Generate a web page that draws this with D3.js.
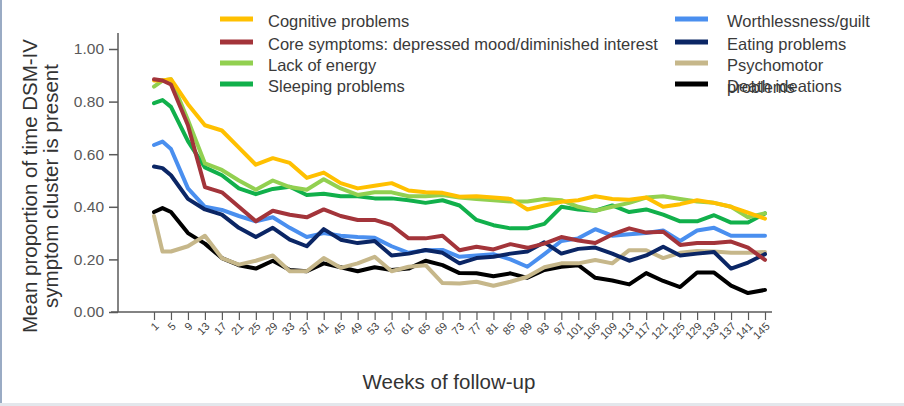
<!DOCTYPE html>
<html>
<head>
<meta charset="utf-8">
<script src="https://cdn.jsdelivr.net/npm/d3@7"></script>
<style>
  html, body { margin: 0; padding: 0; background: #fff; }
  svg { display: block; font-family: "Liberation Sans", Arial, sans-serif; }
</style>
</head>
<body>
<svg id="chart" width="904" height="406"></svg>
<script>
// Weeks at which each symptom cluster is sampled
const weeks = [1, 3, 5, 9, 13, 17, 21, 25, 29, 33, 37, 41, 45, 49, 53, 57, 61, 65, 69, 73,
  77, 81, 85, 89, 93, 97, 101, 105, 109, 113, 117, 121, 125, 129, 133, 137, 141, 145];

// Tick labels on the week axis
const weekTicks = d3.range(1, 146, 4);
// Tick values on the proportion axis
const proportionTicks = [0, 0.2, 0.4, 0.6, 0.8, 1.0];

// Mean proportion of time each DSM-IV symptom cluster is present
const cognitive = [0.88, 0.88, 0.885, 0.79, 0.71, 0.69, 0.625, 0.56, 0.585, 0.567, 0.51, 0.53, 0.49, 0.47, 0.48, 0.49, 0.462, 0.455, 0.453, 0.438,
  0.44, 0.435, 0.43, 0.39, 0.405, 0.419, 0.425, 0.44, 0.43, 0.427, 0.435, 0.40, 0.41, 0.425, 0.415, 0.40, 0.378, 0.355];
const coreSymptoms = [0.885, 0.88, 0.865, 0.71, 0.475, 0.455, 0.40, 0.345, 0.385, 0.37, 0.36, 0.39, 0.365, 0.35, 0.35, 0.33, 0.28, 0.28, 0.29, 0.235,
  0.248, 0.238, 0.258, 0.244, 0.26, 0.285, 0.272, 0.262, 0.295, 0.318, 0.302, 0.305, 0.255, 0.262, 0.262, 0.268, 0.245, 0.198];
const lackOfEnergy = [0.857, 0.88, 0.885, 0.73, 0.565, 0.54, 0.50, 0.465, 0.50, 0.475, 0.465, 0.505, 0.47, 0.445, 0.455, 0.455, 0.44, 0.44, 0.445, 0.435,
  0.43, 0.425, 0.42, 0.42, 0.43, 0.425, 0.40, 0.385, 0.40, 0.415, 0.435, 0.44, 0.43, 0.42, 0.415, 0.40, 0.36, 0.375];
const sleeping = [0.794, 0.806, 0.78, 0.65, 0.55, 0.52, 0.47, 0.448, 0.468, 0.476, 0.445, 0.45, 0.44, 0.44, 0.432, 0.432, 0.425, 0.415, 0.425, 0.405,
  0.35, 0.33, 0.318, 0.318, 0.335, 0.40, 0.39, 0.385, 0.405, 0.38, 0.39, 0.37, 0.345, 0.345, 0.368, 0.34, 0.34, 0.375];
const worthlessness = [0.635, 0.648, 0.62, 0.47, 0.40, 0.388, 0.365, 0.345, 0.36, 0.32, 0.285, 0.30, 0.29, 0.285, 0.282, 0.25, 0.225, 0.235, 0.236, 0.21,
  0.215, 0.22, 0.20, 0.172, 0.22, 0.27, 0.28, 0.315, 0.29, 0.296, 0.30, 0.31, 0.27, 0.31, 0.32, 0.29, 0.29, 0.29];
const eating = [0.553, 0.547, 0.52, 0.43, 0.39, 0.37, 0.32, 0.285, 0.32, 0.275, 0.25, 0.315, 0.275, 0.262, 0.27, 0.215, 0.222, 0.236, 0.225, 0.185,
  0.205, 0.21, 0.222, 0.23, 0.265, 0.222, 0.24, 0.245, 0.222, 0.195, 0.215, 0.248, 0.215, 0.222, 0.228, 0.165, 0.188, 0.22];
const psychomotor = [0.365, 0.23, 0.23, 0.25, 0.29, 0.205, 0.18, 0.195, 0.215, 0.155, 0.155, 0.205, 0.168, 0.185, 0.21, 0.155, 0.172, 0.178, 0.11, 0.108,
  0.115, 0.10, 0.115, 0.134, 0.17, 0.185, 0.185, 0.198, 0.185, 0.235, 0.235, 0.205, 0.225, 0.232, 0.23, 0.225, 0.225, 0.228];
const deathIdeations = [0.38, 0.395, 0.38, 0.30, 0.26, 0.205, 0.178, 0.165, 0.195, 0.16, 0.155, 0.185, 0.17, 0.155, 0.17, 0.16, 0.165, 0.195, 0.178, 0.148,
  0.147, 0.136, 0.147, 0.13, 0.16, 0.172, 0.178, 0.13, 0.12, 0.105, 0.148, 0.118, 0.095, 0.15, 0.15, 0.10, 0.072, 0.084];

const seriesNames = ["Cognitive problems", "Core symptoms: depressed mood/diminished interest", "Lack of energy", "Sleeping problems",
  "Worthlessness/guilt", "Eating problems", "Psychomotor problems", "Death ideations"];
const seriesValues = [cognitive, coreSymptoms, lackOfEnergy, sleeping, worthlessness, eating, psychomotor, deathIdeations];
const seriesColors = ["#FFC000", "#A3343A", "#92D050", "#11B04B", "#4A8FEF", "#0B2665", "#C6B78A", "#000000"];

const svg = d3.select("#chart");

// Frame edges of the figure
svg.append("line").attr("x1", 1).attr("x2", 1).attr("y1", 0).attr("y2", 403)
  .attr("stroke", "#9AABC4").attr("stroke-width", 2);
svg.append("rect").attr("x", 0).attr("y", 403).attr("width", 904).attr("height", 3).attr("fill", "#E3E7EC");

const x = d3.scaleLinear().domain([1, 145]).range([154, 765]);
const y = d3.scaleLinear().domain([0, 1]).range([312, 49]);
const axisColor = "#5A5A5A";

// Proportion axis
const yAxis = svg.append("g").attr("transform", "translate(118,0)")
  .call(d3.axisLeft(y).tickValues(proportionTicks).tickFormat(d3.format(".2f")).tickSize(9).tickPadding(5));
yAxis.select(".domain").remove();
yAxis.selectAll(".tick line").attr("stroke", axisColor).attr("stroke-width", 1.5);
yAxis.selectAll(".tick text").attr("fill", "#595959").style("font-size", "15.5px")
  .style("font-family", "'Liberation Sans', Arial, sans-serif");
svg.append("line").attr("x1", 118).attr("x2", 118).attr("y1", 33).attr("y2", y(0))
  .attr("stroke", axisColor).attr("stroke-width", 1.5);

// Week axis
const xAxis = svg.append("g").attr("transform", `translate(0,${y(0)})`)
  .call(d3.axisBottom(x).tickValues(weekTicks).tickSize(8).tickFormat(d3.format("d")));
xAxis.select(".domain").remove();
xAxis.selectAll(".tick line").attr("stroke", axisColor).attr("stroke-width", 1.2);
xAxis.selectAll(".tick text")
  .attr("fill", "#444").style("font-size", "11px")
  .style("font-family", "'Liberation Sans', Arial, sans-serif")
  .attr("text-anchor", "end")
  .attr("dy", null).attr("y", 0)
  .attr("transform", "translate(5,15) rotate(-45)");
svg.append("line").attr("x1", 111).attr("x2", 772).attr("y1", y(0)).attr("y2", y(0))
  .attr("stroke", axisColor).attr("stroke-width", 1.5);

// Series lines, drawn from the last legend entry up to the first
const line = d3.line().x((d, i) => x(weeks[i])).y(d => y(d));
const drawOrder = [7, 6, 4, 5, 3, 2, 0, 1];
drawOrder.forEach(k => {
  svg.append("path").datum(seriesValues[k])
    .attr("d", line)
    .attr("fill", "none")
    .attr("stroke", seriesColors[k])
    .attr("stroke-width", 4)
    .attr("stroke-linejoin", "round")
    .attr("stroke-linecap", "round");
});

// Axis titles
svg.append("text")
  .attr("transform", "translate(37,186) rotate(-90)")
  .attr("text-anchor", "middle").attr("fill", "#333")
  .style("font-size", "20.5px")
  .text("Mean proportion of time DSM-IV");
svg.append("text")
  .attr("transform", "translate(58,186) rotate(-90)")
  .attr("text-anchor", "middle").attr("fill", "#333")
  .style("font-size", "20.5px")
  .text("symptom cluster is present");
svg.append("text")
  .attr("x", 449).attr("y", 389)
  .attr("text-anchor", "middle").attr("fill", "#333")
  .style("font-size", "20.5px")
  .text("Weeks of follow-up");

// Legend: two columns of swatches and labels
const legendCols = [{ sx: 220, tx: 268 }, { sx: 675, tx: 727 }];
const legendRows = [19, 42, 63, 84];
seriesNames.forEach((name, i) => {
  const col = legendCols[Math.floor(i / 4)];
  const row = legendRows[i % 4];
  const g = svg.append("g");
  g.append("line")
    .attr("x1", col.sx).attr("x2", col.sx + 33)
    .attr("y1", row).attr("y2", row)
    .attr("stroke", seriesColors[i]).attr("stroke-width", 5);
  const t = g.append("text")
    .attr("x", col.tx).attr("y", row + 8)
    .attr("fill", "#3A3A3A")
    .style("font-size", "16.5px");
  if (name === "Psychomotor problems") {
    t.append("tspan").attr("x", col.tx).text("Psychomotor");
    t.append("tspan").attr("x", col.tx).attr("dy", 22).text("problems");
  } else {
    t.text(name);
  }
});
</script>
</body>
</html>
